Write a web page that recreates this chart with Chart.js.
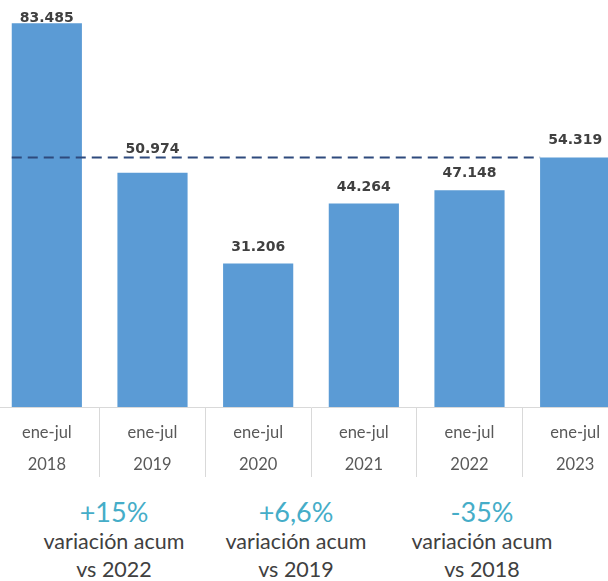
<!DOCTYPE html>
<html>
<head>
<meta charset="utf-8">
<script src="https://cdn.jsdelivr.net/npm/chart.js@4.4.0/dist/chart.umd.min.js"></script>
<style>
  html, body { margin: 0; padding: 0; background: #fff; overflow: hidden; }
  #wrap { position: relative; width: 608px; height: 581px; overflow: hidden; }
  #cwrap { position: absolute; left: -6px; top: 0; width: 634px; height: 482px; }
  .note { position: absolute; top: 497px; width: 220px; text-align: center; font-family: Lato, "Open Sans", sans-serif; }
  .pct { color: #45ADC8; font-size: 27px; line-height: 30px; }
  .txt { color: #404040; font-size: 21.5px; line-height: 28px; }
</style>
</head>
<body>
<div id="wrap">
  <div id="cwrap"><canvas id="c"></canvas></div>
  <div id="notes"></div>
</div>
<script>
const periods = ["ene-jul", "ene-jul", "ene-jul", "ene-jul", "ene-jul", "ene-jul"];
const years = ["2018", "2019", "2020", "2021", "2022", "2023"];
const values = [83485, 50974, 31206, 44264, 47148, 54319];
const referenceValue = 54319;
const notePcts = ["+15%", "+6,6%", "-35%"];
const noteLines1 = ["variación acum", "variación acum", "variación acum"];
const noteLines2 = ["vs 2022", "vs 2019", "vs 2018"];
const noteCenters = [114, 296, 482];

function fmt(v) {
  return String(v).replace(/\B(?=(\d{3})+(?!\d))/g, ".");
}

const labels = periods.map((p, i) => [p, years[i]]);

const overlay = {
  id: 'overlay',
  afterDatasetsDraw(chart) {
    const ctx = chart.ctx;
    const meta = chart.getDatasetMeta(0);
    const ys = chart.scales.y;
    const first = meta.data[0], last = meta.data[meta.data.length - 1];
    const yRef = ys.getPixelForValue(referenceValue);
    ctx.save();
    ctx.strokeStyle = '#2E4A7D';
    ctx.lineWidth = 2;
    ctx.setLineDash([10, 6]);
    ctx.beginPath();
    ctx.moveTo(first.x - first.width / 2, yRef);
    ctx.lineTo(last.x - last.width / 2, yRef);
    ctx.stroke();
    ctx.restore();
    ctx.save();
    ctx.fillStyle = '#404040';
    ctx.font = 'bold 14px "DejaVu Sans", sans-serif';
    ctx.textAlign = 'center';
    ctx.textBaseline = 'alphabetic';
    const cap = 11;
    meta.data.forEach((bar, i) => {
      let yb = bar.y - 13;
      // avoid overlapping the dashed reference line
      if (yb + 2 > yRef - 1 && yb - cap < yRef + 1 && bar.y > yRef + 2) {
        yb = yRef - 4;
      }
      yb = Math.max(yb, chart.chartArea.top + 1);
      ctx.fillText(fmt(values[i]), bar.x, yb);
    });
    ctx.restore();
  }
};

new Chart(document.getElementById('c'), {
  type: 'bar',
  data: {
    labels: labels,
    datasets: [{
      data: values,
      backgroundColor: '#5B9BD5',
      borderWidth: 0,
      categoryPercentage: 1.0,
      barPercentage: 0.664
    }]
  },
  options: {
    responsive: true,
    maintainAspectRatio: false,
    animation: false,
    layout: { padding: { top: 21, left: 0, right: 0, bottom: 0 } },
    plugins: { legend: { display: false }, tooltip: { enabled: false } },
    scales: {
      y: { display: false, min: 0, max: 84000 },
      x: {
        afterFit(scale) { scale.height = 75; },
        grid: {
          offset: true,
          drawOnChartArea: false,
          drawTicks: true,
          tickLength: 70,
          color: '#D9D9D9',
          lineWidth: 1
        },
        border: { display: true, color: '#D9D9D9', width: 1 },
        ticks: {
          padding: -60,
          color: '#595959',
          maxRotation: 0,
          font: { family: 'Lato, "Open Sans", sans-serif', size: 16.5, lineHeight: 1.92 }
        }
      }
    }
  },
  plugins: [overlay]
});

const notes = document.getElementById('notes');
notePcts.forEach((p, i) => {
  const d = document.createElement('div');
  d.className = 'note';
  d.style.left = (noteCenters[i] - 110) + 'px';
  d.innerHTML = '<div class="pct">' + p + '</div><div class="txt">' + noteLines1[i] + '</div><div class="txt">' + noteLines2[i] + '</div>';
  notes.appendChild(d);
});
</script>
</body>
</html>
